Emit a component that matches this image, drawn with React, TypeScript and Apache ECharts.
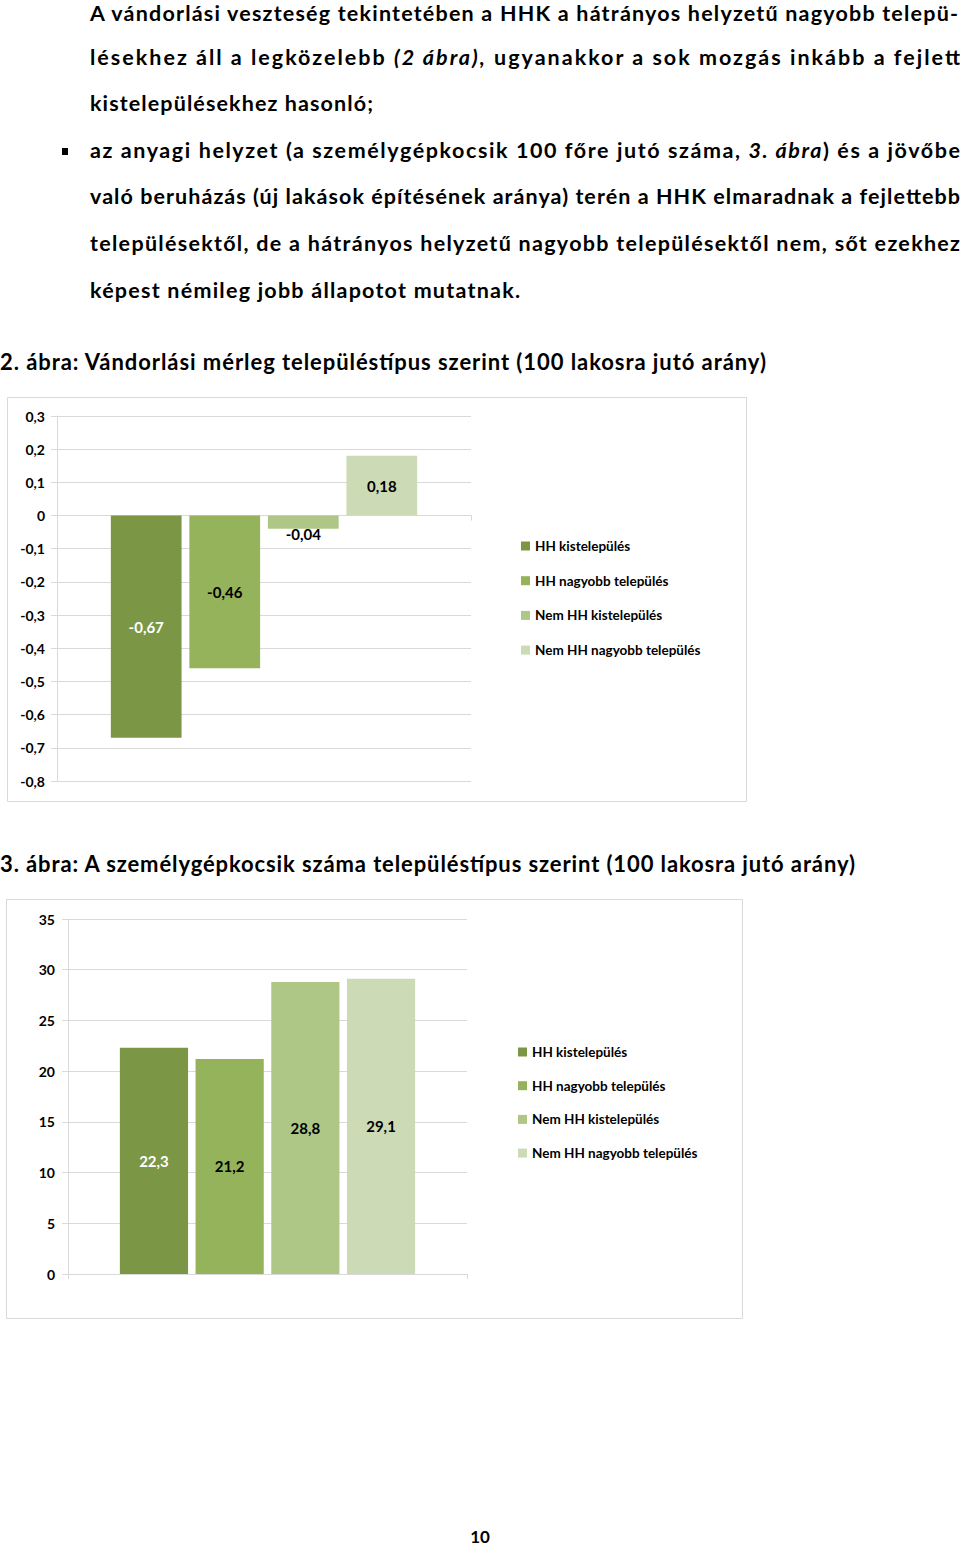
import React, { useEffect, useRef } from "react";
import * as echarts from "echarts";

// ---------- data ----------
const seriesNames = [
  "HH kistelepülés",
  "HH nagyobb település",
  "Nem HH kistelepülés",
  "Nem HH nagyobb település",
];
const migrationValues = [-0.67, -0.46, -0.04, 0.18];
const carValues = [22.3, 21.2, 28.8, 29.1];
const migrationAxis = { min: -0.8, max: 0.3, interval: 0.1 };
const carAxis = { min: 0, max: 35, interval: 5 };
const title1 = "2. ábra: Vándorlási mérleg településtípus szerint (100 lakosra jutó arány)";
const title2 = "3. ábra: A személygépkocsik száma településtípus szerint (100 lakosra jutó arány)";
const pageNumber = "10";

type Seg = { t: string; i?: boolean };
const bodyLines: Seg[][] = [
  [{ t: "A vándorlási veszteség tekintetében a HHK a hátrányos helyzetű nagyobb telepü-" }],
  [
    { t: "lésekhez áll a legközelebb " },
    { t: "(2 ábra),", i: true },
    { t: " ugyanakkor a sok mozgás inkább a fejlett" },
  ],
  [{ t: "kistelepülésekhez hasonló;" }],
  [
    { t: "az anyagi helyzet (a személygépkocsik 100 főre jutó száma, " },
    { t: "3. ábra", i: true },
    { t: ") és a jövőbe" },
  ],
  [{ t: "való beruházás (új lakások építésének aránya) terén a HHK elmaradnak a fejlettebb" }],
  [{ t: "településektől, de a hátrányos helyzetű nagyobb településektől nem, sőt ezekhez" }],
  [{ t: "képest némileg jobb állapotot mutatnak." }],
];

// ---------- styles ----------
const barColors = ["#7B9645", "#94B35A", "#AEC786", "#CCDBB6"];
const labelColors = ["#FFFFFF", "#000000", "#000000", "#000000"];
const gridColor = "#D9D9D9";
const FONT = "Lato";
const bodyBaselines = [21, 65, 111, 158, 204, 251, 298];
const bodyWidths = [868, 870, 283, 870, 870, 870, 430];

const fmt = (v: number) => {
  if (Math.abs(v) < 1e-9) return "0";
  const r = Math.round(v * 100) / 100;
  return String(r).replace(".", ",");
};

export default function App() {
  const ref = useRef<HTMLDivElement>(null);

  useEffect(() => {
    if (!ref.current) return;
    const chart = echarts.init(ref.current, undefined, { renderer: "svg" });

    const axisLabel = (margin: number) => ({
      formatter: (v: number) => fmt(v),
      color: "#000",
      fontFamily: FONT,
      fontWeight: "bold",
      fontSize: 14,
      margin,
    });

    const xAxisBase = {
      type: "category",
      data: [""],
      axisLine: { show: true, lineStyle: { color: gridColor } },
      axisTick: { show: true, length: 5, lineStyle: { color: gridColor } },
      axisLabel: { show: false },
      splitLine: { show: false },
    };

    const yAxisBase = {
      type: "value",
      axisLine: { show: true, lineStyle: { color: gridColor } },
      axisTick: { show: true, length: 6, lineStyle: { color: gridColor } },
      splitLine: { show: true, lineStyle: { color: gridColor } },
    };

    const makeSeries = (values: number[], axisIndex: number) =>
      values.map((v, i) => ({
        type: "bar",
        name: seriesNames[i],
        xAxisIndex: axisIndex,
        yAxisIndex: axisIndex,
        data: [v],
        barGap: "11%",
        barCategoryGap: "26%",
        itemStyle: { color: barColors[i] },
        label: {
          show: true,
          position: axisIndex === 0 && i === 2 ? "bottom" : "inside",
          distance: -2,
          formatter: (p: any) => fmt(p.value),
          color: labelColors[i],
          fontFamily: FONT,
          fontWeight: "bold",
          fontSize: 15,
        },
      }));

    const legendBase = {
      orient: "vertical",
      icon: "rect",
      itemWidth: 9,
      itemHeight: 9,
      padding: 0,
      selectedMode: false,
      data: seriesNames,
      textStyle: { fontFamily: FONT, fontWeight: "bold", fontSize: 13.5, color: "#000", lineHeight: 14 },
    };

    chart.setOption({
      animation: false,
      backgroundColor: "#FFFFFF",
      legend: [
        { ...legendBase, left: 521, top: 539, itemGap: 20.7 },
        { ...legendBase, left: 518, top: 1045, itemGap: 19.7 },
      ],
      grid: [
        { left: 57, top: 416, width: 414, height: 365 },
        { left: 68, top: 919, width: 399, height: 355 },
      ],
      xAxis: [
        { ...xAxisBase, gridIndex: 0 },
        { ...xAxisBase, gridIndex: 1 },
      ],
      yAxis: [
        { ...yAxisBase, gridIndex: 0, ...migrationAxis, axisLabel: axisLabel(12) },
        { ...yAxisBase, gridIndex: 1, ...carAxis, axisLabel: axisLabel(13) },
      ],
      graphic: [
        {
          type: "rect",
          silent: true,
          shape: { x: 7.5, y: 397.5, width: 739, height: 404 },
          style: { fill: "none", stroke: gridColor, lineWidth: 1 },
        },
        {
          type: "rect",
          silent: true,
          shape: { x: 6.5, y: 899.5, width: 736, height: 419 },
          style: { fill: "none", stroke: gridColor, lineWidth: 1 },
        },
      ],
      series: [...makeSeries(migrationValues, 0), ...makeSeries(carValues, 1)],
    });

    return () => chart.dispose();
  }, []);

  return (
    <div
      style={{
        position: "absolute",
        left: 0,
        top: 0,
        width: 960,
        height: 1546,
        background: "#fff",
        overflow: "hidden",
      }}
    >
      <div ref={ref} style={{ position: "absolute", left: 0, top: 0, width: 960, height: 1546 }} />
      <svg
        width={960}
        height={1546}
        style={{ position: "absolute", left: 0, top: 0, pointerEvents: "none" }}
      >
        <rect x={62} y={148} width={6} height={7} fill="#000" />
        {bodyLines.map((segs, li) => (
          <text
            key={li}
            x={90}
            y={bodyBaselines[li]}
            textLength={bodyWidths[li]}
            lengthAdjust="spacing"
            fontFamily={FONT}
            fontWeight="bold"
            fontSize={21.5}
            fill="#000"
          >
            {segs.map((s, si) => (
              <tspan key={si} fontStyle={s.i ? "italic" : "normal"}>
                {s.t}
              </tspan>
            ))}
          </text>
        ))}
        <text
          x={0}
          y={370}
          textLength={766}
          lengthAdjust="spacing"
          fontFamily={FONT}
          fontWeight="bold"
          fontSize={22}
          fill="#000"
        >
          {title1}
        </text>
        <text
          x={0}
          y={872}
          textLength={855}
          lengthAdjust="spacing"
          fontFamily={FONT}
          fontWeight="bold"
          fontSize={22}
          fill="#000"
        >
          {title2}
        </text>
        <text
          x={480}
          y={1543}
          textAnchor="middle"
          fontFamily={FONT}
          fontWeight="bold"
          fontSize={17}
          fill="#000"
        >
          {pageNumber}
        </text>
      </svg>
    </div>
  );
}
